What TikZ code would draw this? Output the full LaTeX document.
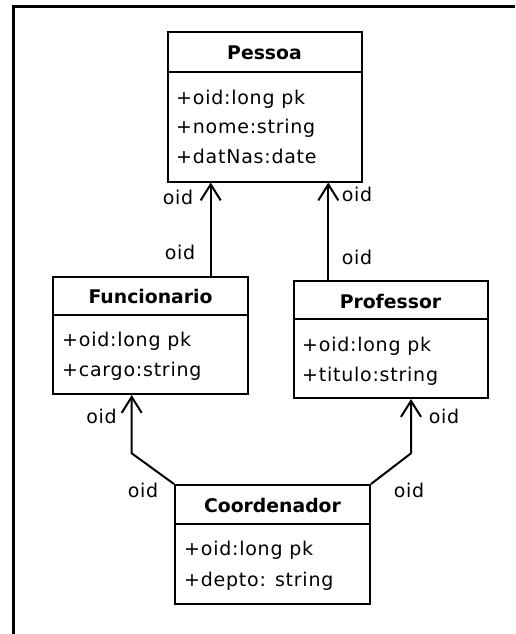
\documentclass[tikz,border=0pt]{standalone}
\usepackage{fontspec}
\setmainfont{DejaVu Sans}
\newfontfamily\widefont{DejaVu Sans}[LetterSpace=4]
\usetikzlibrary{arrows.meta}
\begin{document}
\begin{tikzpicture}[x=1pt,y=-1pt,
  classbox/.style={draw, line width=2pt, inner sep=0pt},
  sepline/.style={line width=2pt},
  classname/.style={font=\fontsize{18.8}{21}\selectfont\bfseries, anchor=base, inner sep=0pt},
  attr/.style={font=\widefont\fontsize{19}{21}\selectfont, anchor=base west, inner sep=0pt},
  rolelbl/.style={font=\widefont\fontsize{19}{21}\selectfont, anchor=base, inner sep=0pt},
  assoc/.style={line width=2pt, -{Straight Barb[length=16pt,width=20pt]}}
]
\useasboundingbox (0,0) rectangle (515,634);
% frame
\draw[line width=3pt] (515,6.3) -- (13.5,6.3) -- (13.5,634);

% Pessoa
\node[classbox, minimum width=194pt, minimum height=149pt] (pessoa) at (264.5,107) {};
\draw[sepline] (pessoa.west |- 0,71.5) -- (pessoa.east |- 0,71.5);
\node[classname] (pessoaT) at (264.5,59.5) {Pessoa};
\node[attr] (pessoaA1) at (176,104) {+oid:long pk};
\node[attr] (pessoaA2) at (176,133.5) {+nome:string};
\node[attr] (pessoaA3) at (176,163.5) {+datNas:date};

% Funcionario
\node[classbox, minimum width=195pt, minimum height=117pt] (funcionario) at (150.5,335.5) {};
\draw[sepline] (funcionario.west |- 0,315) -- (funcionario.east |- 0,315);
\node[classname] (funcT) at (150.5,303) {Funcionario};
\node[attr] (funcA1) at (62,346.5) {+oid:long pk};
\node[attr] (funcA2) at (62,376.5) {+cargo:string};

% Professor
\node[classbox, minimum width=194pt, minimum height=117pt] (professor) at (390.5,339.5) {};
\draw[sepline] (professor.west |- 0,319) -- (professor.east |- 0,319);
\node[classname] (profT) at (390.5,308) {Professor};
\node[attr] (profA1) at (302,351) {+oid:long pk};
\node[attr] (profA2) at (302,381.5) {+titulo:string};

% Coordenador
\node[classbox, minimum width=195pt, minimum height=118.5pt] (coordenador) at (272.5,544.25) {};
\draw[sepline] (coordenador.west |- 0,524) -- (coordenador.east |- 0,524);
\node[classname] (coordT) at (272.5,512.5) {Coordenador};
\node[attr] (coordA1) at (184,555) {+oid:long pk};
\node[attr] (coordA2) at (184,586.5) {+depto: string};

% associations
\coordinate (fpx) at (210.7,0);
\draw[assoc] (fpx |- funcionario.north) -- (fpx |- pessoa.south);
\coordinate (ppx) at (328.3,0);
\draw[assoc] (ppx |- professor.north) -- (ppx |- pessoa.south);
\coordinate (cfk) at (131.7,453.3);
\draw[assoc] (coordenador.north west) -- (cfk) -- (cfk |- funcionario.south);
\coordinate (cpk) at (411,453.3);
\draw[assoc] (coordenador.north east) -- (cpk) -- (cpk |- professor.south);

% role labels
\node[rolelbl] (l1) at (178,204) {oid};
\node[rolelbl] (l2) at (180,259) {oid};
\node[rolelbl] (l3) at (357,201) {oid};
\node[rolelbl] (l4) at (357,264) {oid};
\node[rolelbl] (l5) at (101.5,423) {oid};
\node[rolelbl] (l6) at (143,497) {oid};
\node[rolelbl] (l7) at (444,423) {oid};
\node[rolelbl] (l8) at (409,497) {oid};
\end{tikzpicture}
\end{document}
